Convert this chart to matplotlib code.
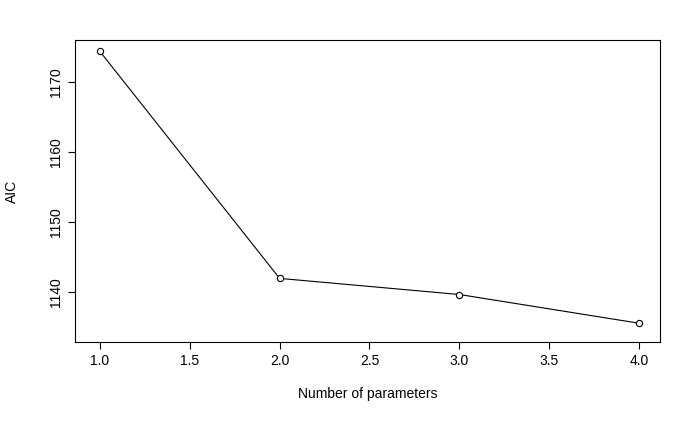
import matplotlib
matplotlib.use("Agg")
import matplotlib.pyplot as plt

n_params = [1, 2, 3, 4]
aic = [1174.4, 1142.0, 1139.7, 1135.6]
x_ticks = [1.0, 1.5, 2.0, 2.5, 3.0, 3.5, 4.0]
y_ticks = [1140, 1150, 1160, 1170]

plt.rcParams['font.family'] = ['Liberation Sans', 'DejaVu Sans']
fig = plt.figure(figsize=(7, 4.32), dpi=100)
ax = fig.add_axes([0.107, 0.208, 0.836, 0.699])
ax.plot(n_params, aic, color='black', lw=0.8, marker='o', ms=4.5,
        mfc='white', mec='black', mew=0.8)
ax.set_xlim(0.861, 4.117)
ax.set_ylim(1132.9, 1176.0)
ax.set_xticks(x_ticks)
ax.set_xticklabels([f"{t:.1f}" for t in x_ticks])
ax.set_yticks(y_ticks)
ax.set_yticklabels([str(t) for t in y_ticks], rotation=90, va='center')
ax.tick_params(labelsize=10, length=5, width=0.8)
for s in ax.spines.values():
    s.set_linewidth(0.8)
ax.set_xlabel("Number of parameters", fontsize=10, labelpad=14)
ax.set_ylabel("AIC", fontsize=10, labelpad=22)
fig.savefig("out.png")
